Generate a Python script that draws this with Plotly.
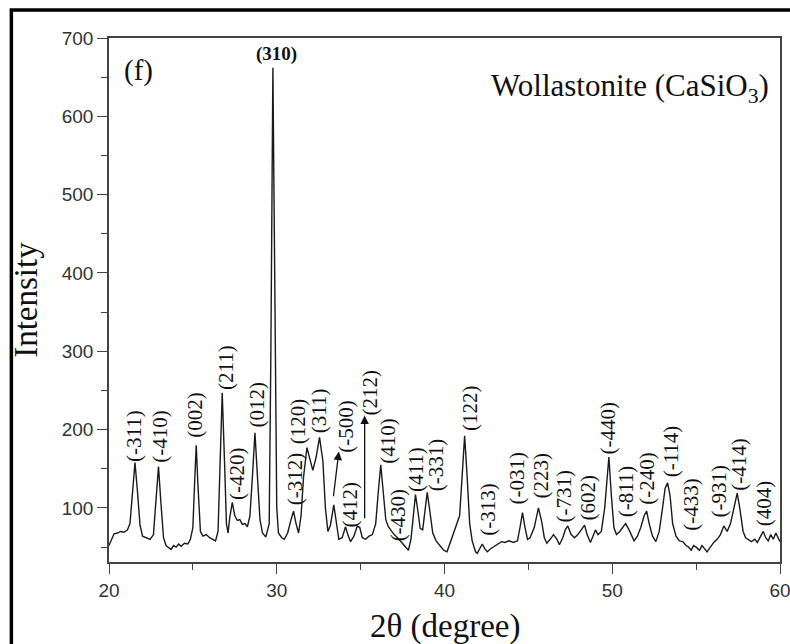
import plotly.graph_objects as go

# ---- data: XRD pattern ----
two_theta = [
    20.0, 20.15, 20.3, 20.5, 20.7, 20.9, 21.1, 21.25, 21.4, 21.55, 21.7, 21.85, 22.0, 22.2, 22.45,
    22.65, 22.8, 22.95, 23.1, 23.25, 23.4, 23.55, 23.7, 23.85, 24.0, 24.15, 24.3, 24.5, 24.7, 24.85,
    25.0, 25.1, 25.2, 25.3, 25.45, 25.6, 25.8, 26.0, 26.2, 26.35, 26.5, 26.6, 26.75, 26.9, 27.0,
    27.1, 27.2, 27.35, 27.5, 27.65, 27.8, 27.95, 28.1, 28.25, 28.4, 28.55, 28.7, 28.85, 29.0, 29.15,
    29.35, 29.55, 29.65, 29.77, 29.9, 30.0, 30.1, 30.3, 30.45, 30.65, 30.85, 31.0, 31.15, 31.3, 31.45,
    31.6, 31.8, 31.95, 32.15, 32.35, 32.55, 32.75, 32.9, 33.05, 33.2, 33.4, 33.55, 33.7, 33.9, 34.1,
    34.25, 34.4, 34.6, 34.8, 34.95, 35.1, 35.3, 35.5, 35.7, 35.9, 36.05, 36.2, 36.35, 36.5, 36.65,
    36.85, 37.0, 37.2, 37.45, 37.65, 37.85, 38.0, 38.15, 38.27, 38.4, 38.55, 38.7, 38.85, 38.97, 39.1,
    39.3, 39.5, 39.75, 39.95, 40.15, 40.35, 40.55, 40.75, 40.9, 41.05, 41.2, 41.35, 41.5, 41.65, 41.85,
    41.95, 42.1, 42.25, 42.4, 42.55, 42.75, 42.95, 43.15, 43.4, 43.6, 43.85, 44.1, 44.35, 44.5, 44.65,
    44.8, 44.95, 45.1, 45.35, 45.6, 45.8, 45.95, 46.1, 46.3, 46.5, 46.7, 46.85, 47.05, 47.2, 47.35,
    47.55, 47.75, 47.95, 48.15, 48.35, 48.5, 48.7, 48.85, 49.0, 49.15, 49.35, 49.55, 49.8, 49.95, 50.1,
    50.25, 50.45, 50.65, 50.8, 51.0, 51.15, 51.3, 51.5, 51.7, 51.9, 52.05, 52.2, 52.4, 52.6, 52.8,
    53.0, 53.15, 53.3, 53.45, 53.6, 53.8, 54.0, 54.2, 54.4, 54.55, 54.7, 54.85, 55.0, 55.2, 55.35,
    55.5, 55.65, 55.85, 56.05, 56.25, 56.45, 56.65, 56.85, 57.05, 57.3, 57.45, 57.6, 57.8, 57.95, 58.1,
    58.3, 58.5, 58.65, 58.85, 59.0, 59.15, 59.3, 59.45, 59.6, 59.75, 59.9, 60.0,
]
intensity = [
    52, 60, 67, 68, 70, 69, 72, 80, 118, 158, 120, 78, 64, 62, 60,
    66, 110, 153, 105, 62, 52, 50, 47, 52, 50, 54, 51, 55, 54, 60,
    75, 130, 180, 130, 70, 64, 66, 62, 60, 58, 70, 150, 247, 150, 80,
    68, 88, 107, 90, 84, 85, 79, 80, 76, 90, 140, 196, 140, 85, 68,
    63, 80, 300, 662, 300, 100, 68, 62, 60, 68, 85, 96, 80, 68, 90,
    140, 177, 165, 148, 165, 190, 160, 100, 70, 78, 104, 80, 60, 62, 76,
    65, 57, 64, 77, 75, 62, 60, 64, 66, 80, 120, 155, 120, 85, 76,
    70, 66, 62, 56, 52, 46, 60, 95, 117, 98, 74, 72, 100, 120, 100,
    68, 58, 52, 46, 44, 56, 68, 80, 90, 140, 192, 140, 80, 58, 44,
    42, 48, 54, 48, 44, 48, 51, 54, 57, 56, 58, 56, 58, 75, 94,
    75, 60, 62, 75, 100, 82, 62, 55, 60, 66, 60, 53, 62, 72, 77,
    66, 62, 66, 72, 78, 66, 56, 64, 72, 66, 70, 100, 165, 115, 75,
    66, 70, 76, 80, 72, 64, 58, 64, 75, 90, 96, 80, 64, 57, 70,
    100, 125, 132, 115, 80, 64, 58, 57, 52, 50, 46, 52, 50, 46, 52,
    48, 44, 50, 56, 60, 66, 77, 70, 80, 105, 119, 100, 70, 62, 60,
    57, 60, 56, 64, 70, 62, 58, 66, 60, 68, 60, 57,
]

# ---- peak labels (Miller indices) and their label centres ----
hkl_labels = ["(-311)", "(-410)", "(002)", "(211)", "(-420)", "(012)", "(-312)", "(120)",
              "(311)", "(-500)", "(412)", "(212)", "(410)", "(-430)", "(411)", "(-331)",
              "(122)", "(-313)", "(-031)", "(223)", "(-731)", "(602)", "(-440)", "(-811)",
              "(-240)", "(-114)", "(-433)", "(-931)", "(-414)", "(404)"]
hkl_x = [21.49, 23.04, 25.13, 26.93, 27.62, 28.82, 31.10, 31.28,
         32.48, 34.09, 34.39, 35.58, 36.58, 37.25, 38.27, 39.46,
         41.55, 42.55, 44.34, 45.73, 47.10, 48.54, 49.73, 50.81,
         52.10, 53.49, 54.69, 56.36, 57.55, 59.04]
hkl_y = [192, 191, 219, 279, 143, 232, 137, 211,
         224, 204, 105, 248, 186, 91, 149, 155,
         227, 98, 138, 141, 114, 113, 201, 121,
         138, 172, 104, 121, 155, 106]

main_label = "(310)"
main_label_x = 29.97
main_label_y = 679

# arrows: (head x, head y, tail x, tail y)
arrow_head_x = [33.70, 35.24]
arrow_head_y = [172, 218]
arrow_tail_x = [33.37, 35.24]
arrow_tail_y = [113, 85]

serif = "Liberation Serif, Times New Roman, serif"
sans = "Liberation Sans, Arial, sans-serif"

fig = go.Figure()
fig.add_trace(go.Scatter(
    x=two_theta, y=intensity, mode="lines",
    line=dict(color="#1a1a1a", width=1.4),
    showlegend=False, hoverinfo="skip",
))

annotations = []
for lab, xx, yy in zip(hkl_labels, hkl_x, hkl_y):
    annotations.append(dict(
        x=xx, y=yy, xref="x", yref="y", text=lab, showarrow=False,
        textangle=-90, xanchor="center", yanchor="middle",
        font=dict(family=serif, size=21, color="#111111"),
    ))
annotations.append(dict(
    x=main_label_x, y=main_label_y, xref="x", yref="y", text="<b>" + main_label + "</b>",
    showarrow=False, xanchor="center", yanchor="middle",
    font=dict(family=serif, size=19, color="#111111"),
))
for hx, hy, tx, ty in zip(arrow_head_x, arrow_head_y, arrow_tail_x, arrow_tail_y):
    annotations.append(dict(
        x=hx, y=hy, ax=tx, ay=ty, xref="x", yref="y", axref="x", ayref="y",
        text="", showarrow=True, arrowhead=2, arrowsize=1.3, arrowwidth=1.3,
        arrowcolor="#111111",
    ))
annotations.append(dict(
    x=0.044, y=0.938, xref="paper", yref="paper", text="(f)", showarrow=False,
    xanchor="center", yanchor="middle",
    font=dict(family=serif, size=29, color="#111111"),
))
annotations.append(dict(
    x=0.987, y=0.905, xref="paper", yref="paper",
    text="Wollastonite (CaSiO<sub>3</sub>)", showarrow=False,
    xanchor="right", yanchor="middle",
    font=dict(family=serif, size=31, color="#111111"),
))
annotations.append(dict(
    x=-0.124, y=0.5, xref="paper", yref="paper", text="Intensity", showarrow=False,
    textangle=-90, xanchor="center", yanchor="middle",
    font=dict(family=serif, size=33, color="#111111"),
))
annotations.append(dict(
    x=0.5, y=-0.124, xref="paper", yref="paper", text="2θ (degree)", showarrow=False,
    xanchor="center", yanchor="middle",
    font=dict(family=serif, size=33, color="#111111"),
))

fig.update_layout(
    width=790, height=644,
    margin=dict(l=109, r=10, t=38, b=82),
    paper_bgcolor="white", plot_bgcolor="white",
    annotations=annotations,
    shapes=[dict(type="rect", xref="paper", yref="paper",
                 x0=-0.1455, x1=1.2, y0=-0.3, y1=1.0535,
                 line=dict(color="black", width=3.5))],
    xaxis=dict(
        range=[20, 60], tickmode="linear", tick0=20, dtick=10, automargin=False,
        ticklabeloverflow="allow",
        ticks="outside", ticklen=10, tickwidth=1.3, tickcolor="#444",
        showline=True, linecolor="#444", linewidth=1.5, mirror=True,
        showgrid=False, zeroline=False,
        tickfont=dict(family=sans, size=19, color="#333"),
        minor=dict(dtick=5, ticks="outside", ticklen=6, tickwidth=1.3, tickcolor="#444"),
    ),
    yaxis=dict(
        range=[31, 700], tickmode="linear", tick0=0, dtick=100, automargin=False,
        ticklabeloverflow="allow",
        ticks="outside", ticklen=10, tickwidth=1.3, tickcolor="#444",
        showline=True, linecolor="#444", linewidth=1.5, mirror=True,
        showgrid=False, zeroline=False,
        tickfont=dict(family=sans, size=19, color="#333"),
        minor=dict(dtick=50, ticks="outside", ticklen=6, tickwidth=1.3, tickcolor="#444"),
    ),
)

fig.write_html("out.html")
